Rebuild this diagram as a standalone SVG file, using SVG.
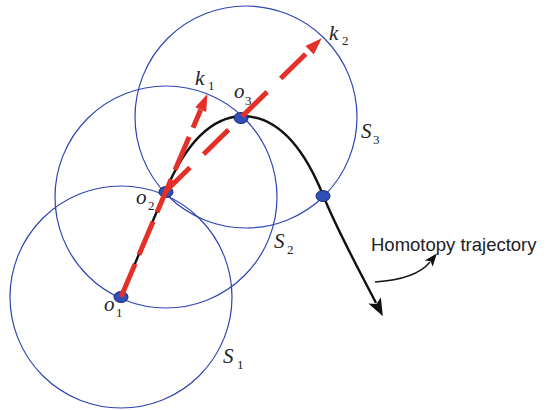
<svg xmlns="http://www.w3.org/2000/svg" width="547" height="410" viewBox="0 0 547 410">
<style>
.circ{fill:none;stroke:#2f45b0;stroke-width:1.2}
.dot{fill:#2f4fba;stroke:#1a2a70;stroke-width:1}
.red{fill:none;stroke:#e5302a;stroke-width:5}
.lbl{font-family:"Liberation Serif",serif;font-style:italic;font-size:21px;fill:#222}
.sub{font-family:"Liberation Serif",serif;font-size:13px;fill:#222}
.txt{font-family:"Liberation Sans",sans-serif;font-size:18.5px;fill:#222}
</style>
<defs>
<marker id="ra" markerUnits="userSpaceOnUse" markerWidth="18" markerHeight="14" refX="0" refY="6" orient="auto" overflow="visible">
<path d="M0,0 L17,6 L0,12 Z" fill="#e5302a"/>
</marker>
<marker id="ba" markerUnits="userSpaceOnUse" markerWidth="20" markerHeight="16" refX="3" refY="7" orient="auto" overflow="visible">
<path d="M0,0 L18,7 L0,14 L4,7 Z" fill="#111"/>
</marker>
<marker id="bs" markerUnits="userSpaceOnUse" markerWidth="14" markerHeight="12" refX="2" refY="5" orient="auto" overflow="visible">
<path d="M0,0 L13,5 L0,10 L3,5 Z" fill="#111"/>
</marker>
</defs>
<g id="circles">
<circle id="S1" class="circ" cx="121" cy="297" r="111"/>
<circle id="S2" class="circ" cx="166" cy="197" r="111"/>
<circle id="S3" class="circ" cx="246" cy="117" r="111"/>
</g>
<g id="connectors">
<path id="trajectory" d="M121,297 L165,192 C185,145 210,117 242,116 C283,116 308,158 323,195 C337,230 358,268 376,303" fill="none" stroke="#111" stroke-width="2.4" marker-end="url(#ba)"/>
<path id="label-arrow" d="M375,282 C405,280 422,272 430,262" fill="none" stroke="#111" stroke-width="1.3" marker-end="url(#bs)"/>
</g>
<g id="dots">
<ellipse id="o1" class="dot" cx="121" cy="297" rx="7" ry="5.5"/>
<ellipse id="o2" class="dot" cx="166" cy="192" rx="7" ry="5.5"/>
<ellipse id="o3" class="dot" cx="241" cy="118" rx="7" ry="5.5"/>
<ellipse id="p4" class="dot" cx="323" cy="196" rx="7" ry="5.5"/>
</g>
<g id="red-arrows">
<path id="k1" class="red" d="M121,297 L200.7,109.7" stroke-dasharray="36 10" marker-end="url(#ra)"/>
<path id="k2" class="red" d="M165,192 L309.6,50.2" stroke-dasharray="35 19" marker-end="url(#ra)"/>
</g>
<g id="labels">
<text class="lbl" x="195" y="85">k</text><text class="sub" x="208" y="90">1</text>
<text class="lbl" x="329" y="40">k</text><text class="sub" x="342" y="45">2</text>
<text class="lbl" x="234" y="98">o</text><text class="sub" x="245" y="105">3</text>
<text class="lbl" x="136" y="204">o</text><text class="sub" x="148" y="210">2</text>
<text class="lbl" x="104" y="311">o</text><text class="sub" x="116" y="317">1</text>
<text class="lbl" x="361" y="138">S</text><text class="sub" x="373" y="144">3</text>
<text class="lbl" x="274" y="248">S</text><text class="sub" x="287" y="254">2</text>
<text class="lbl" x="223" y="363">S</text><text class="sub" x="237" y="369">1</text>
<text class="txt" x="371" y="251">Homotopy trajectory</text>
</g>
</svg>
